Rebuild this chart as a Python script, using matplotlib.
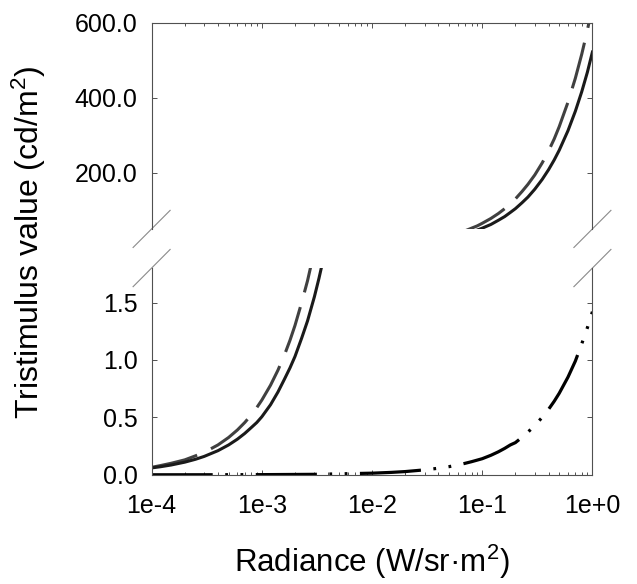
import matplotlib
matplotlib.use("Agg")
import matplotlib.pyplot as plt
from matplotlib.ticker import FixedLocator, LogLocator, NullFormatter, FormatStrFormatter

plt.rcParams['font.family'] = ['Liberation Sans', 'DejaVu Sans']
plt.rcParams['mathtext.fontset'] = 'custom'
plt.rcParams['mathtext.rm'] = 'Liberation Sans'
plt.rcParams['mathtext.default'] = 'regular'
plt.rcParams['lines.scale_dashes'] = False

# values
solid_x = [1e-4, 1.2e-4, 1.5e-4, 2e-4, 2.5e-4, 3e-4, 4e-4, 5e-4, 6e-4, 7e-4, 8e-4, 9e-4,
           1e-3, 1.2e-3, 1.4e-3, 1.6e-3, 1.8e-3, 2e-3, 2.3e-3, 2.6e-3, 3e-3, 3.3e-3, 3.6e-3,
           0.08, 0.09, 0.1, 0.12, 0.14, 0.16, 0.18, 0.2, 0.23, 0.26, 0.3, 0.35, 0.4, 0.45,
           0.5, 0.6, 0.7, 0.8, 0.9, 1.0]
solid_y = [0.06, 0.07, 0.085, 0.11, 0.135, 0.16, 0.21, 0.26, 0.31, 0.36, 0.41, 0.455,
           0.505, 0.61, 0.72, 0.83, 0.93, 1.03, 1.19, 1.34, 1.55, 1.71, 1.87,
           42, 47, 52, 62, 73, 83, 94, 104, 120, 135, 156, 182, 208, 234,
           260, 312, 364, 416, 468, 522]

dashed_x = [1e-4, 1.2e-4, 1.5e-4, 2e-4, 2.5e-4, 3e-4, 4e-4, 5e-4, 6e-4, 7e-4, 8e-4, 9e-4,
            1e-3, 1.2e-3, 1.4e-3, 1.6e-3, 1.8e-3, 2e-3, 2.3e-3, 2.6e-3, 2.9e-3,
            0.07, 0.08, 0.09, 0.1, 0.12, 0.14, 0.16, 0.18, 0.2, 0.23, 0.26, 0.3, 0.35,
            0.4, 0.45, 0.5, 0.6, 0.7, 0.8, 0.9, 1.0]
dashed_y = [0.065, 0.08, 0.10, 0.13, 0.165, 0.195, 0.26, 0.325, 0.39, 0.455, 0.52, 0.585,
            0.65, 0.78, 0.91, 1.04, 1.17, 1.30, 1.50, 1.69, 1.89,
            45, 52, 58, 65, 78, 91, 104, 117, 130, 150, 169, 194, 226,
            258, 290, 323, 388, 452, 516, 580, 645]

dotted_x = [1e-4, 3e-4, 1e-3, 3e-3, 0.01, 0.015, 0.02, 0.03, 0.04, 0.05, 0.06, 0.07, 0.08,
            0.1, 0.12, 0.14, 0.16, 0.18, 0.2, 0.25, 0.3, 0.35, 0.4, 0.45, 0.5, 0.6, 0.7,
            0.8, 0.9, 1.0]
dotted_y = [0.0001, 0.0004, 0.0014, 0.004, 0.014, 0.021, 0.028, 0.043, 0.057, 0.071, 0.085,
            0.10, 0.114, 0.14, 0.17, 0.20, 0.23, 0.26, 0.28, 0.355, 0.43, 0.50, 0.57, 0.64,
            0.71, 0.85, 0.99, 1.14, 1.28, 1.42]

xticks = [1e-4, 1e-3, 1e-2, 1e-1, 1e0]
xtick_labels = ['1e-4', '1e-3', '1e-2', '1e-1', '1e+0']
top_yticks = [200, 400, 600]
bottom_yticks = [0.0, 0.5, 1.0, 1.5]

spine_col = '#505050'

fig = plt.figure(figsize=(6.37, 5.84), dpi=100)
ax_top = fig.add_axes([0.238, 0.608, 0.692, 0.353])
ax_bot = fig.add_axes([0.238, 0.187, 0.692, 0.354])

for ax in (ax_top, ax_bot):
    ax.plot(dashed_x, dashed_y, color='#404040', lw=2.2, dashes=(34, 11))
    ax.plot(solid_x, solid_y, color='#1a1a1a', lw=2.2)
    ax.plot(dotted_x, dotted_y, color='black', lw=2.3,
            dashes=(44, 9, 2, 9, 2, 9))
    ax.set_xscale('log')
    ax.set_xlim(1e-4, 1.0)
    ax.xaxis.set_major_locator(FixedLocator(xticks))
    ax.xaxis.set_minor_locator(LogLocator(base=10, subs=range(2, 10)))
    ax.xaxis.set_minor_formatter(NullFormatter())
    ax.yaxis.set_major_formatter(FormatStrFormatter('%.1f'))
    for s in ax.spines.values():
        s.set_color(spine_col)
        s.set_linewidth(0.8)
    ax.tick_params(which='both', direction='in', color=spine_col, width=0.7,
                   labelsize=18, labelcolor='black')
    ax.tick_params(which='major', length=3.5)
    ax.tick_params(which='minor', length=2)
    ax.tick_params(axis='y', left=True, right=True, pad=10)

ax_top.set_ylim(50, 600)
ax_top.set_yticks(top_yticks)
ax_top.spines['bottom'].set_visible(False)
ax_top.tick_params(axis='x', which='both', top=True, bottom=False, labelbottom=False)

ax_bot.set_ylim(0, 1.8)
ax_bot.set_yticks(bottom_yticks)
ax_bot.spines['top'].set_visible(False)
ax_bot.tick_params(axis='x', which='both', top=False, bottom=True, pad=14)
ax_bot.set_xticklabels(xtick_labels)

# break marks
dx, dy = 0.042, 0.09
for ax, yc in ((ax_top, 0.0), (ax_bot, 1.0)):
    for xc in (0.0, 1.0):
        ax.plot([xc - dx, xc + dx], [yc - dy, yc + dy], transform=ax.transAxes,
                color='#8a8a8a', lw=0.8, clip_on=False)

fig.text(0.5 * (0.238 + 0.930), 0.038, 'Radiance (W/sr\u00b7m$^{2}$)',
         ha='center', va='center', fontsize=22.5)
fig.text(0.046, 0.585, 'Tristimulus value (cd/m$^{2}$)', rotation=90,
         ha='center', va='center', fontsize=23)

fig.savefig('out.png', dpi=100)
